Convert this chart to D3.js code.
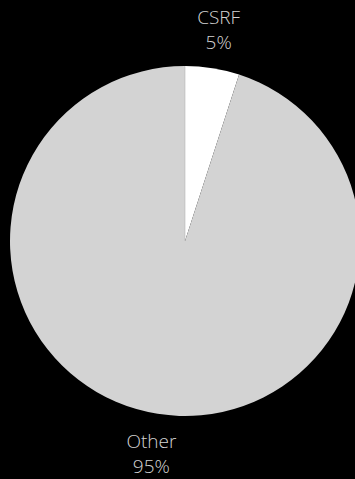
<!DOCTYPE html>
<html>
<head>
<meta charset="utf-8">
<script src="https://cdn.jsdelivr.net/npm/d3@7"></script>
<style>
  html, body { margin: 0; padding: 0; background: #000; }
  svg { display: block; }
</style>
</head>
<body>
<svg></svg>
<script>
var width = 355;
var height = 479;

var labels = ["CSRF", "Other"];
var values = [5, 95];
var colors = ["#ffffff", "#d3d3d3"];

var cx = 185, cy = 241, radius = 175, labelRadius = 215;

var svg = d3.select("svg")
            .attr("width", width)
            .attr("height", height);

var pie = d3.pie().sort(null).value(d => d.value);
var arc = d3.arc().innerRadius(0).outerRadius(radius);
var labelArc = d3.arc().innerRadius(labelRadius).outerRadius(labelRadius);

var data = labels.map((l, i) => ({ label: l, value: values[i], color: colors[i] }));
var arcs = pie(data);

var g = svg.append("g")
           .attr("transform", "translate(" + cx + "," + cy + ")");

g.selectAll("path")
  .data(arcs)
  .enter()
  .append("path")
    .attr("d", arc)
    .attr("fill", d => d.data.color);

// thin seam at the start of the first slice
g.append("line")
  .attr("x1", 0).attr("y1", 0)
  .attr("x2", 0).attr("y2", -radius)
  .attr("stroke", "#a8a8a8")
  .attr("stroke-width", 0.5);

var total = d3.sum(values);

var txt = g.selectAll("text.lbl")
  .data(arcs)
  .enter()
  .append("text")
    .attr("class", "lbl")
    .attr("transform", d => "translate(" + labelArc.centroid(d) + ")")
    .attr("text-anchor", "middle")
    .attr("fill", "#d3d3d3")
    .attr("font-family", "'Open Sans', sans-serif")
    .attr("font-weight", 300)
    .attr("font-size", "19px");

txt.append("tspan")
    .attr("x", 0)
    .attr("y", -5)
    .text(d => d.data.label);

txt.append("tspan")
    .attr("x", 0)
    .attr("y", 20)
    .text(d => Math.round(d.data.value / total * 100) + "%");
</script>
</body>
</html>
